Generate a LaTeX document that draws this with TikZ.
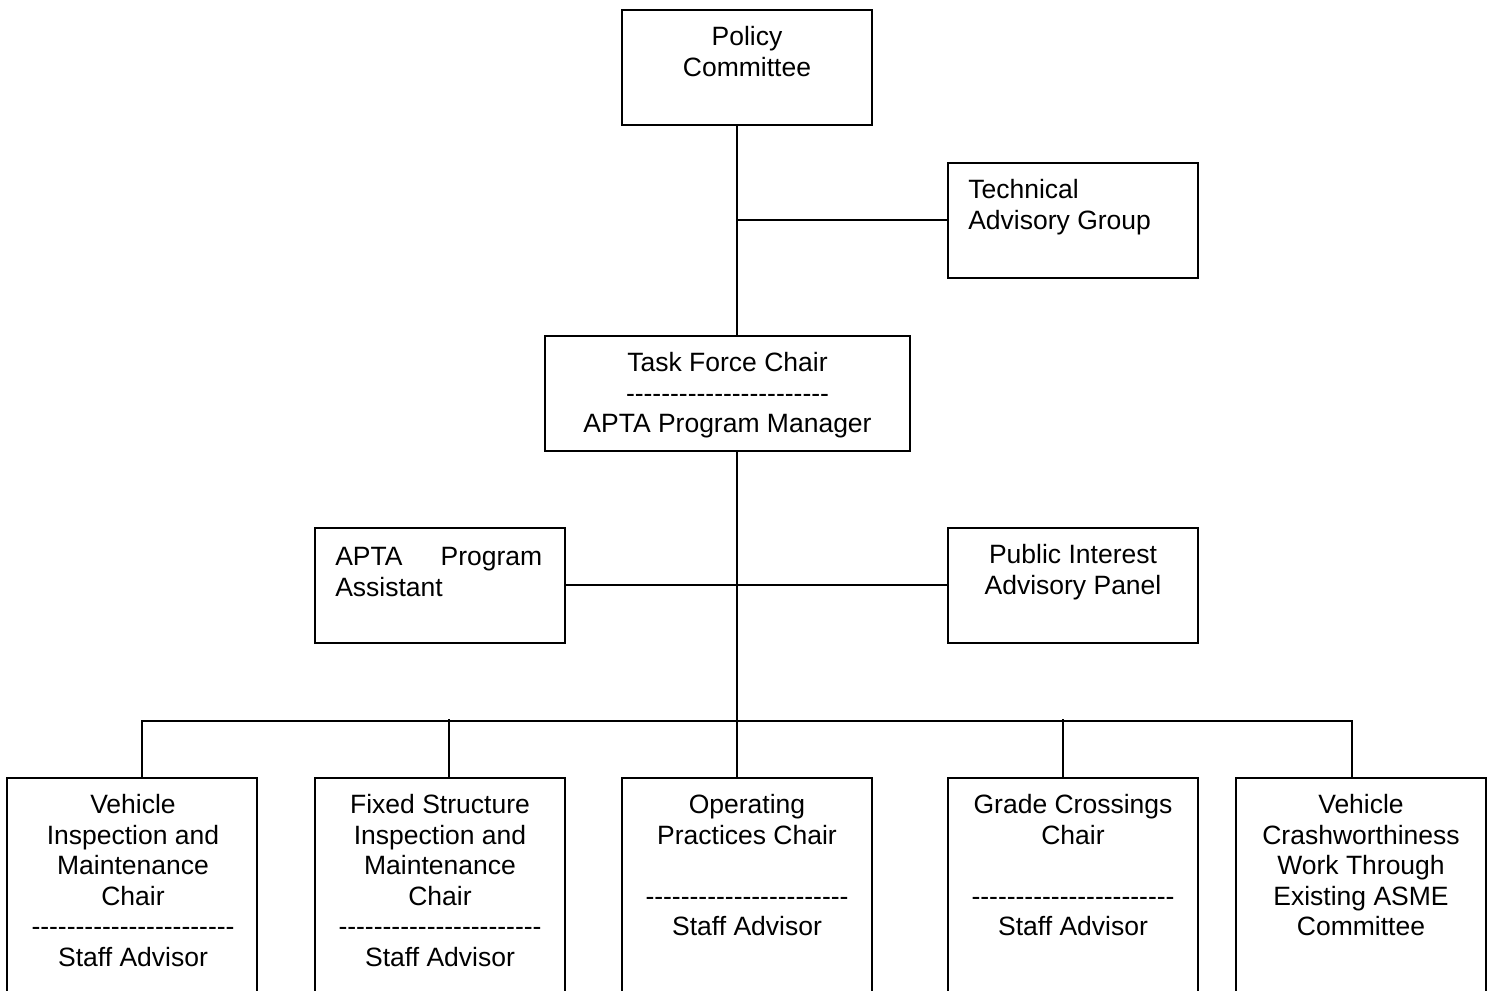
\documentclass[tikz,border=0pt]{standalone}
\usepackage{fontspec}
\setmainfont{Liberation Sans}
\usetikzlibrary{calc}
\newcommand\hy{\mbox{-}}
\newcommand\dashrow{\hy\hy\hy\hy\hy\hy\hy\hy\hy\hy\hy\hy\hy\hy\hy\hy\hy\hy\hy\hy\hy\hy\hy}
\tikzset{
  box/.style={draw, line width=1.8pt, inner sep=0pt, minimum width=250pt, minimum height=115pt},
  lowbox/.style={box, overlay, minimum height=222pt},
  txt/.style={inner sep=0pt, align=center, anchor=north, font=\fontsize{26.5}{30.6}\selectfont, execute at begin node=\strut},
  link/.style={line width=1.8pt}
}
\begin{document}
\begin{tikzpicture}[x=1pt, y=-1pt]
\useasboundingbox (0,0) rectangle (1493,990);
% boxes
\node[box] (pc) at (747,67.5) {};
\node[box] (tag) at (1073,220.5) {};
\node[box, minimum width=365pt] (tfc) at (727.5,393.5) {};
\node[box] (apa) at (440,585.5) {};
\node[box] (pia) at (1073,585.5) {};
\node[lowbox] (b1) at (132,889) {};
\node[lowbox] (b2) at (440,889) {};
\node[lowbox] (b3) at (747,889) {};
\node[lowbox] (b4) at (1073,889) {};
\node[lowbox] (b5) at (1361,889) {};
% texts
\node[txt] (pct) at ($(pc.north)+(0,17)$) {Policy\\Committee};
\node[txt, anchor=north west, align=left] (tagt) at ($(tag.north west)+(21,17)$) {Technical\\Advisory Group};
\node[txt] (tfct) at ($(tfc.north)+(0,17)$) {Task Force Chair\\\dashrow\\APTA Program Manager};
\node[txt, anchor=north west, text width=207pt, align=left] (apat) at ($(apa.north west)+(21,17)$) {APTA\hfill Program\\Assistant};
\node[txt] (piat) at ($(pia.north)+(0,17)$) {Public Interest\\Advisory Panel};
\node[txt] (b1t) at ($(b1.north)+(1,17)$) {Vehicle\\Inspection and\\Maintenance\\Chair\\\dashrow\\Staff Advisor};
\node[txt] (b2t) at ($(b2.north)+(0,17)$) {Fixed Structure\\Inspection and\\Maintenance\\Chair\\\dashrow\\Staff Advisor};
\node[txt] (b3t) at ($(b3.north)+(0,17)$) {Operating\\Practices Chair\\\mbox{}\\\dashrow\\Staff Advisor};
\node[txt] (b4t) at ($(b4.north)+(0,17)$) {Grade Crossings\\Chair\\\mbox{}\\\dashrow\\Staff Advisor};
\node[txt] (b5t) at ($(b5.north)+(0,17)$) {Vehicle\\Crashworthiness\\Work Through\\Existing ASME\\Committee};
% connectors
\coordinate (tk) at ($(pc.south)+(-10,0)$);
\coordinate (bus) at ($(tk)+(0,595)$);
\draw[link] (tk) -- (tk |- tfc.north);
\draw[link] ($(tk |- tag.west)+(0,-0.5)$) -- ($(tag.west)+(0,-0.5)$);
\draw[link] (tk |- tfc.south) -- (tk |- b3.north);
\draw[link] ($(apa.east)+(0,-0.5)$) -- ($(pia.west)+(0,-0.5)$);
\draw[link] ($(b1.north)+(10,0)$) |- (bus) -| ($(b5.north)+(-9,0)$);
\draw[link] ($(b2.north)+(9,0)$) -- ($(b2.north)+(9,-58)$);
\draw[link] ($(b4.north)+(-10,0)$) -- ($(b4.north)+(-10,-58)$);
\end{tikzpicture}
\end{document}
